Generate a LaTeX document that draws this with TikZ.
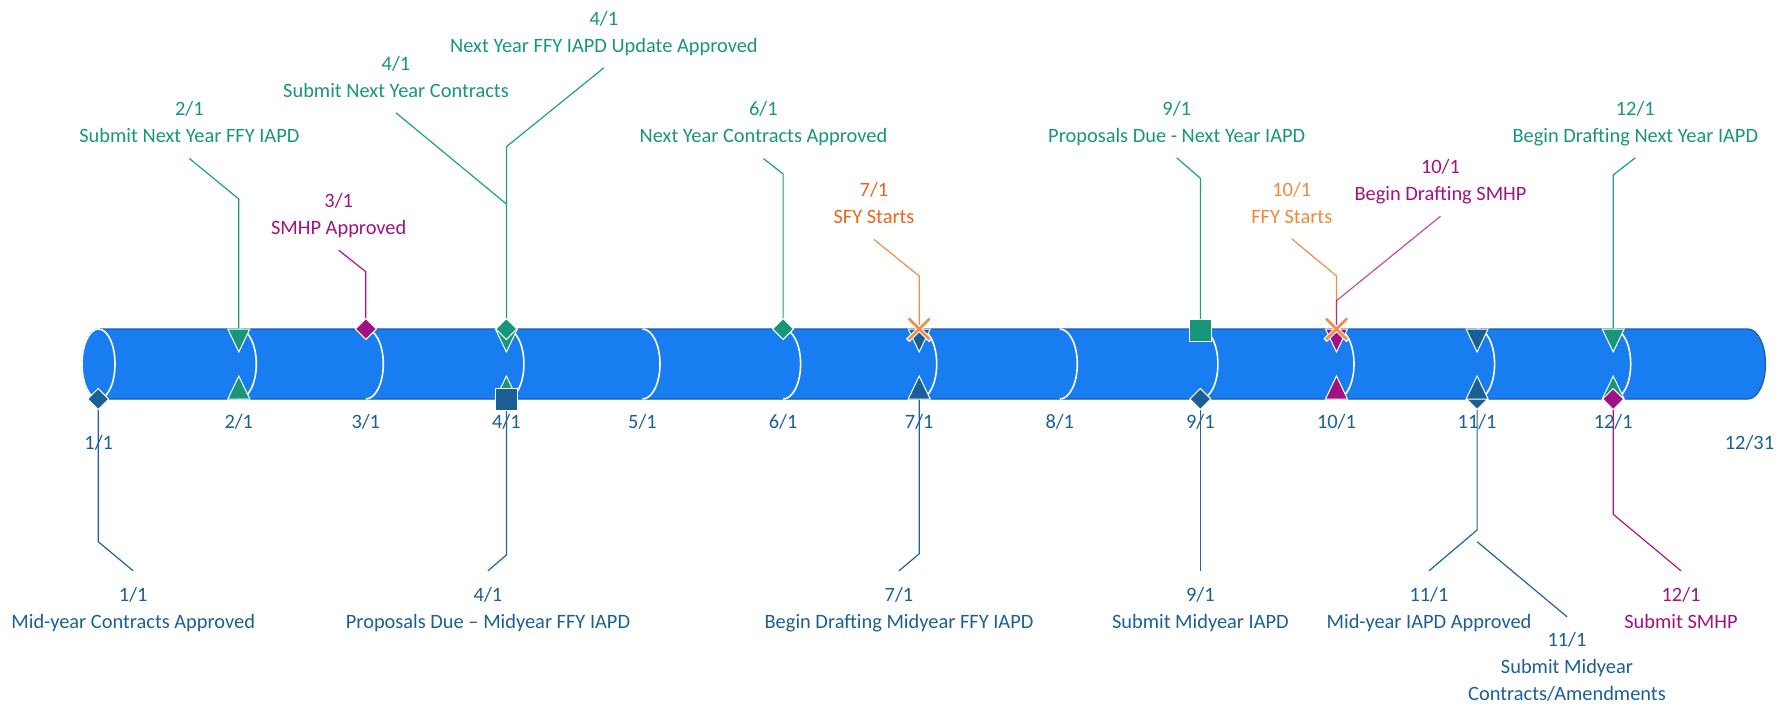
\documentclass[tikz,border=0pt]{standalone}
\usepackage{fontspec}
\setmainfont{Carlito}
\definecolor{cylfill}{RGB}{25,125,242}
\definecolor{cyledge}{RGB}{22,92,170}
\definecolor{cgreen}{RGB}{24,150,122}
\definecolor{cblue}{RGB}{26,96,150}
\definecolor{cmag}{RGB}{160,18,130}
\definecolor{corA}{RGB}{233,100,30}
\definecolor{corB}{RGB}{240,136,60}
\definecolor{corL}{RGB}{241,142,72}
\definecolor{lgreen}{RGB}{30,160,128}
\definecolor{lblue}{RGB}{30,100,160}
\definecolor{lmag}{RGB}{170,20,140}
\pgfdeclarelayer{bg}
\pgfdeclarelayer{lines}
\pgfsetlayers{bg,lines,main}
\newcommand\mkTriDn[2]{\filldraw[mkedge,fill=#1] (#2) +(-11,0) -- +(11,0) -- +(0,23) -- cycle;}
\newcommand\mkTriUp[2]{\filldraw[mkedge,fill=#1] (#2) +(-11,0) -- +(11,0) -- +(0,-23) -- cycle;}
\newcommand\mkDiam[2]{\filldraw[mkedge,fill=#1] (#2) +(-10.5,0) -- +(0,-10.5) -- +(10.5,0) -- +(0,10.5) -- cycle;}
\newcommand\mkSq[2]{\filldraw[mkedge,fill=#1] (#2) +(-11,-11) rectangle +(11,11);}
\newcommand\mkX[1]{\draw[white,line width=2.4pt] (#1) +(-11.5,-11.5) -- +(11.5,11.5) +(-11.5,11.5) -- +(11.5,-11.5);
  \draw[corL,line width=1.3pt] (#1) +(-10.5,-10.5) -- +(10.5,10.5) +(-10.5,10.5) -- +(10.5,-10.5);}
\begin{document}
\begin{tikzpicture}[x=0.5pt,y=-0.5pt,
  lbl/.style={align=center,inner sep=0pt,anchor=north,font=\fontsize{10.2}{13.5}\selectfont},
  month/.style={inner sep=0pt,anchor=base,text=cblue,font=\fontsize{10.2}{12}\selectfont},
  mkedge/.style={draw=white,line width=0.5pt},
  ldr/.style={line width=0.6pt},
  divider/.style={white,line width=0.8pt}]
\useasboundingbox (0,0) rectangle (1790,703);

% marker positions on the timeline
\coordinate (m11b) at (98.2,399);
\coordinate (m21t) at (238.8,329);  \coordinate (m21b) at (238.8,399);
\coordinate (m31t) at (365.8,329);
\coordinate (m41t) at (506.4,329);  \coordinate (m41b) at (506.4,399);
\coordinate (m61t) at (783.1,329);
\coordinate (m71t) at (919.2,329);  \coordinate (m71b) at (919.2,399);
\coordinate (m91t) at (1200.4,329); \coordinate (m91b) at (1200.4,399);
\coordinate (m101t) at (1336.5,329); \coordinate (m101b) at (1336.5,399);
\coordinate (m111t) at (1477.1,329); \coordinate (m111b) at (1477.1,399);
\coordinate (m121t) at (1613.2,329); \coordinate (m121b) at (1613.2,399);

% bends of the leader lines
\coordinate (k21) at (238.8,199);
\coordinate (k41a) at (506.4,204);
\coordinate (k41b) at (506.4,146.7);
\coordinate (k31) at (365.8,271.7);
\coordinate (k61) at (783.1,174);
\coordinate (k71) at (919.2,276);
\coordinate (k91) at (1200.4,178.3);
\coordinate (k101a) at (1336.5,276);
\coordinate (k101b) at (1336.5,300.7);
\coordinate (k121) at (1613.2,175);
\coordinate (j11) at (98.2,541.7);
\coordinate (j41) at (506.4,555);
\coordinate (j71) at (919.2,553.8);
\coordinate (j111a) at (1477.1,530);
\coordinate (j111b) at (1477.1,541.7);
\coordinate (j121) at (1613.2,514.3);

% month labels
\node[month] (d1)  at (98.7,449.1) {1/1};
\node[month] (d2)  at (238.8,428.1) {2/1};
\node[month] (d3)  at (365.8,428.1) {3/1};
\node[month] (d4)  at (506.4,428.1) {4/1};
\node[month] (d5)  at (642.5,428.1) {5/1};
\node[month] (d6)  at (783.1,428.1) {6/1};
\node[month] (d7)  at (919.2,428.1) {7/1};
\node[month] (d8)  at (1059.8,428.1) {8/1};
\node[month] (d9)  at (1200.4,428.1) {9/1};
\node[month] (d10) at (1336.5,428.1) {10/1};
\node[month] (d11) at (1477.1,428.1) {11/1};
\node[month] (d12) at (1613.2,428.1) {12/1};
\node[month] (d13) at (1749.5,449.1) {12/31};

% upper event labels
\node[lbl,text=cgreen] (t21)   at (189.4,96.5)  {\strut 2/1\\\strut Submit Next Year FFY IAPD};
\node[lbl,text=cgreen] (t41a)  at (396,50.8)    {\strut 4/1\\\strut Submit Next Year Contracts};
\node[lbl,text=cgreen] (t41b)  at (603.9,5.8)   {\strut 4/1\\\strut Next Year FFY IAPD Update Approved};
\node[lbl,text=cmag]   (t31)   at (338.7,188.2) {\strut 3/1\\\strut SMHP Approved};
\node[lbl,text=cgreen] (t61)   at (763.4,96.5)  {\strut 6/1\\\strut Next Year Contracts Approved};
\node[lbl,text=corA]   (t71)   at (874,177.5)   {\strut 7/1\\\strut SFY Starts};
\node[lbl,text=cgreen] (t91)   at (1176.7,95.8) {\strut 9/1\\\strut Proposals Due - Next Year IAPD};
\node[lbl,text=corB]   (t101a) at (1291.8,176.8) {\strut 10/1\\\strut FFY Starts};
\node[lbl,text=cmag]   (t101b) at (1440.5,154.2) {\strut 10/1\\\strut Begin Drafting SMHP};
\node[lbl,text=cgreen] (t121)  at (1635.3,95.8) {\strut 12/1\\\strut Begin Drafting Next Year IAPD};

% lower event labels
\node[lbl,text=cblue] (b11)   at (133.2,581.8) {\strut 1/1\\\strut Mid-year Contracts Approved};
\node[lbl,text=cblue] (b41)   at (488,581.8)   {\strut 4/1\\\strut Proposals Due – Midyear FFY IAPD};
\node[lbl,text=cblue] (b71)   at (899,581.8)   {\strut 7/1\\\strut Begin Drafting Midyear FFY IAPD};
\node[lbl,text=cblue] (b91)   at (1200.4,581.8) {\strut 9/1\\\strut Submit Midyear IAPD};
\node[lbl,text=cblue] (b111a) at (1429,581.8)  {\strut 11/1\\\strut Mid-year IAPD Approved};
\node[lbl,text=cblue] (b111b) at (1567,626.8)  {\strut 11/1\\\strut Submit Midyear\\\strut Contracts/Amendments};
\node[lbl,text=cmag]  (b121)  at (1681,581.8)  {\strut 12/1\\\strut Submit SMHP};

% markers
\mkDiam{cblue}{m11b}
\mkTriDn{cgreen}{m21t} \mkTriUp{cgreen}{m21b}
\mkDiam{cmag}{m31t}
\mkTriDn{cgreen}{m41t} \mkTriUp{cgreen}{m41b} \mkDiam{cgreen}{m41t} \mkSq{cblue}{m41b}
\mkDiam{cgreen}{m61t}
\mkTriDn{cblue}{m71t} \mkTriUp{cblue}{m71b} \mkX{m71t}
\filldraw[mkedge,fill=cgreen] (m91t) +(-11,-10) rectangle +(11,12);
\mkDiam{cblue}{m91b}
\mkTriDn{cmag}{m101t} \mkTriUp{cmag}{m101b} \mkX{m101t}
\mkDiam{cblue}{m111b} \mkTriDn{cblue}{m111t} \mkTriUp{cblue}{m111b}
\mkTriDn{cgreen}{m121t} \mkTriUp{cgreen}{m121b} \mkDiam{cmag}{m121b}

% leader lines
\begin{pgfonlayer}{lines}
\draw[ldr,lgreen] ([yshift=-3.6pt]t21.south) -- (k21) -- (m21t);
\draw[ldr,lgreen] ([yshift=-3.6pt]t41a.south) -- (k41a);
\draw[ldr,lgreen] ([yshift=-3.6pt]t41b.south) -- (k41b) -- (m41t);
\draw[ldr,lmag]   ([yshift=-3.6pt]t31.south) -- (k31) -- (m31t);
\draw[ldr,lgreen] ([yshift=-3.6pt]t61.south) -- (k61) -- (m61t);
\draw[ldr,corL]   ([yshift=-3.6pt]t71.south) -- (k71) -- (m71t);
\draw[ldr,lgreen] ([yshift=-3.6pt]t91.south) -- (k91) -- (m91t);
\draw[ldr,corL]   ([yshift=-3.6pt]t101a.south) -- (k101a) -- (m101t);
\draw[ldr,lmag,opacity=0.75] ([yshift=-3.6pt]t101b.south) -- (k101b) -- (m101t);
\draw[ldr,lgreen] ([yshift=-3.6pt]t121.south) -- (k121) -- (m121t);
\draw[ldr,lblue] ([yshift=5.5pt]b11.north) -- (j11) -- (m11b);
\draw[ldr,lblue] ([yshift=5.5pt]b41.north) -- (j41) -- (m41b);
\draw[ldr,lblue] ([yshift=5.5pt]b71.north) -- (j71) -- (m71b);
\draw[ldr,lblue] ([yshift=5.5pt]b91.north) -- (m91b);
\draw[ldr,lblue] ([yshift=5.5pt]b111a.north) -- (j111a) -- (m111b);
\draw[ldr,lblue] ([yshift=5pt]b111b.north) -- (j111b);
\draw[ldr,lmag]  ([yshift=5.5pt]b121.north) -- (j121) -- (m121b);
\end{pgfonlayer}

% the cylinder
\begin{pgfonlayer}{bg}
\filldraw[fill=cylfill,draw=cyledge,line width=0.6pt]
  (98.5,329) -- (1748,329) arc[start angle=-90,end angle=90,x radius=17.5,y radius=35]
  -- (98.5,399) arc[start angle=90,end angle=270,x radius=16.5,y radius=35] -- cycle;
\draw[divider] (98.5,364) ellipse[x radius=16.5,y radius=35];
\foreach \mx in {238.8,365.8,506.4,642.5,783.1,919.2,1059.8,1200.4,1336.5,1477.1,1613.2}
  \draw[divider] (\mx,329) arc[start angle=-90,end angle=90,x radius=17.5,y radius=35];
\end{pgfonlayer}
\end{tikzpicture}
\end{document}
